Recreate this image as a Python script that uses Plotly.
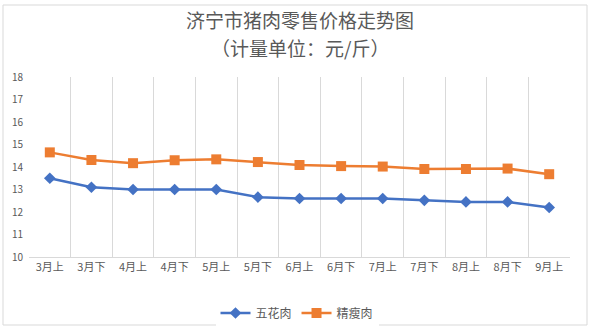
import plotly.graph_objects as go

categories = ["3月上", "3月下", "4月上", "4月下", "5月上", "5月下", "6月上",
              "6月下", "7月上", "7月下", "8月上", "8月下", "9月上"]
wuhua = [13.5, 13.1, 13.0, 13.0, 13.0, 12.66, 12.6, 12.6, 12.6, 12.52, 12.45, 12.45, 12.2]
jingshou = [14.65, 14.31, 14.17, 14.3, 14.34, 14.22, 14.09, 14.04, 14.02, 13.91, 13.91, 13.93, 13.68]
y_ticks = [10, 11, 12, 13, 14, 15, 16, 17, 18]

BLUE = "#4472C4"
ORANGE = "#ED7D31"
GRAY = "#595959"
FONT = "Noto Sans CJK SC"

fig = go.Figure()
fig.add_trace(go.Scatter(
    x=categories, y=wuhua, name="五花肉", mode="lines+markers",
    line=dict(color=BLUE, width=2.5),
    marker=dict(symbol="diamond", size=9, color=BLUE),
))
fig.add_trace(go.Scatter(
    x=categories, y=jingshou, name="精瘦肉", mode="lines+markers",
    line=dict(color=ORANGE, width=2.5),
    marker=dict(symbol="square", size=10, color=ORANGE),
))

fig.update_layout(
    width=594, height=328,
    margin=dict(l=29, r=24, t=77, b=71, autoexpand=False),
    paper_bgcolor="white", plot_bgcolor="white",
    font=dict(family=FONT, color=GRAY, size=10),
    showlegend=True,
    legend=dict(orientation="h", x=0.5, xanchor="center", xref="container",
                y=15 / 328, yanchor="middle", yref="container",
                font=dict(size=12, color=GRAY), itemwidth=30, traceorder="normal"),
    xaxis=dict(type="category", range=[-0.5, 12.5], tickson="boundaries",
               showgrid=True, gridcolor="#D9D9D9", gridwidth=1,
               showline=True, linecolor="#D9D9D9", linewidth=1,
               ticks="", tickfont=dict(size=11, color=GRAY), fixedrange=True,
               automargin=False),
    yaxis=dict(range=[10, 18], tickvals=y_ticks, showgrid=False, zeroline=False,
               showline=False, ticks="", tickfont=dict(size=10, color=GRAY),
               ticklabelstandoff=5, automargin=False),
    annotations=[
        dict(text="济宁市猪肉零售价格走势图", xref="paper", yref="paper",
             x=0.5, y=(257 - 19) / 180, xanchor="center", yanchor="middle",
             showarrow=False, font=dict(size=19, color=GRAY, family=FONT)),
        dict(text="（计量单位：元/斤）", xref="paper", yref="paper",
             x=0.5, y=(257 - 48) / 180, xanchor="center", yanchor="middle",
             showarrow=False, font=dict(size=19, color=GRAY, family=FONT)),
    ],
    shapes=[
        dict(type="rect", xref="paper", yref="paper",
             x0=(3 - 29) / 541, x1=(587 - 29) / 541,
             y0=(257 - 325) / 180, y1=(257 - 5) / 180,
             line=dict(color="#D9D9D9", width=1), fillcolor="rgba(0,0,0,0)", layer="below"),
    ],
)

fig.write_html("out.html")
